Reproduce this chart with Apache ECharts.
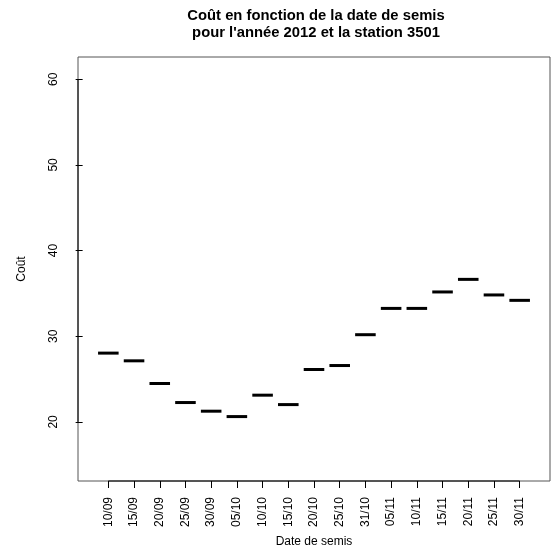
<!DOCTYPE html>
<html>
<head>
<meta charset="utf-8">
<script src="https://cdn.jsdelivr.net/npm/echarts@6/dist/echarts.min.js"></script>
<style>html,body{margin:0;padding:0;background:#fff}#c{width:551px;height:548px}</style>
</head>
<body>
<div id="c"></div>
<script>
const categories = ['10/09','15/09','20/09','25/09','30/09','05/10','10/10','15/10','20/10','25/10','31/10','05/11','10/11','15/11','20/11','25/11','30/11'];
const medians = [28.03, 27.13, 24.48, 22.26, 21.25, 20.62, 23.12, 22.02, 26.12, 26.58, 30.18, 33.25, 33.25, 35.17, 36.64, 34.82, 34.19];
const yTicks = [20, 30, 40, 50, 60];
const yMin = 13.1, yMax = 62.6;
const xMin = -0.18, xMax = 18.18;

const positions = categories.map((c, i) => i + 1);
const medData = positions.map((p, i) => [p, medians[i]]);
const font = 'Liberation Sans, Arial, Helvetica, sans-serif';

const chart = echarts.init(document.getElementById('c'));
chart.setOption({
  animation: false,
  title: {
    text: 'Coût en fonction de la date de semis\npour l\'année 2012 et la station 3501',
    left: 311, textAlign: 'center', top: 2,
    textStyle: {fontFamily: font, fontWeight: 'bold', fontSize: 14.8, lineHeight: 17, color: '#000'}
  },
  grid: {left: 78, right: 1, top: 57, bottom: 67, show: true, borderColor: '#555', borderWidth: 1, containLabel: false, outerBoundsMode: 'none'},
  xAxis: {
    type: 'value', min: xMin, max: xMax,
    name: 'Date de semis', nameLocation: 'middle', nameGap: 55,
    nameTextStyle: {fontFamily: font, fontSize: 12, color: '#000'},
    axisLine: {show: false},
    splitLine: {show: false},
    axisTick: {show: true, length: 7, lineStyle: {color: '#000'}, customValues: positions},
    axisLabel: {show: true, rotate: 90, margin: 16, fontFamily: font, fontSize: 12, color: '#000',
      customValues: positions, formatter: v => categories[Math.round(v) - 1] || ''}
  },
  yAxis: {
    type: 'value', min: yMin, max: yMax,
    name: 'Coût', nameLocation: 'middle', nameGap: 50, nameRotate: 90,
    nameTextStyle: {fontFamily: font, fontSize: 12, color: '#000'},
    axisLine: {show: false},
    splitLine: {show: false},
    axisTick: {show: true, length: 7, lineStyle: {color: '#000'}, customValues: yTicks},
    axisLabel: {show: true, rotate: 90, margin: 18, fontFamily: font, fontSize: 12, color: '#000',
      customValues: yTicks}
  },
  series: [
    {
      type: 'line', silent: true, clip: false, symbol: 'none',
      data: [[positions[0], yMin], [positions[positions.length - 1], yMin]],
      lineStyle: {color: '#000', width: 1}
    },
    {
      type: 'line', silent: true, clip: false, symbol: 'none',
      data: [[xMin, yTicks[0]], [xMin, yTicks[yTicks.length - 1]]],
      lineStyle: {color: '#000', width: 1}
    },
    {
      type: 'custom', silent: true,
      data: medData,
      renderItem: function (params, api) {
        const x = api.value(0), y = api.value(1);
        const p1 = api.coord([x - 0.4, y]);
        const p2 = api.coord([x + 0.4, y]);
        return {type: 'line', shape: {x1: p1[0], y1: p1[1], x2: p2[0], y2: p2[1]},
          style: {stroke: '#000', lineWidth: 3}};
      }
    }
  ]
});
</script>
</body>
</html>
